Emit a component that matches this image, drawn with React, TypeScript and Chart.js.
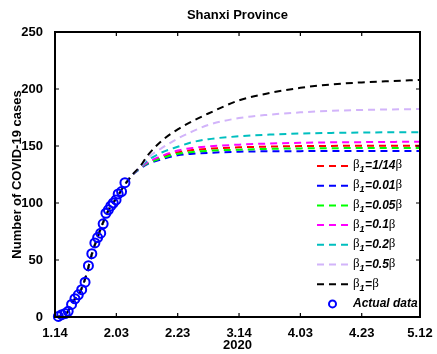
import React, { useEffect, useRef } from "react";
import { Chart, registerables } from "chart.js";

Chart.register(...registerables);

const TITLE = "Shanxi Province";
const Y_TITLE = "Number of COVID-19 cases";
const X_TITLE = "2020";

// x axis: days since 1.14 (2020)
const tickDays = [0, 20, 40, 60, 80, 100, 119];
const tickLabels = ["1.14", "2.03", "2.23", "3.14", "4.03", "4.23", "5.12"];

const actualDays = [1.1, 2.2, 3.3, 4.3, 5.4, 6.5, 7.6, 8.7, 9.8, 10.9, 12.0, 13.0, 13.9, 14.9, 15.7, 16.6, 17.4, 18.2, 19.0, 19.9, 20.6, 21.7, 22.8];
const actualCases = [0.5, 2, 3, 5, 11, 16, 19.5, 24, 30.5, 45, 55.5, 65, 69.7, 73.5, 81.7, 91, 94, 97.4, 100, 102.7, 108, 110, 117.8];

const modelDays = [0, 2, 4, 6, 8, 10, 12, 14, 16, 18, 20, 22, 25, 28, 30, 35, 40, 45, 50, 60, 70, 80, 90, 100, 110, 119];
const sharedEarly = [0, 1, 4, 14, 21, 35, 55, 71, 85, 96.5, 104, 113, 124];

const tailRed = [131.3, 135, 140.5, 144.5, 146.5, 147.6, 148.8, 149.5, 149.9, 150.1, 150.2, 150.3, 150.3];
const tailBlue = [130.5, 134, 138.5, 141.8, 143.2, 144, 145, 145.4, 145.5, 145.6, 145.6, 145.6, 145.6];
const tailGreen = [131, 134.5, 139.5, 143.2, 144.8, 145.8, 146.8, 147.5, 147.9, 148.1, 148.2, 148.3, 148.3];
const tailMagenta = [131.5, 135.5, 141.5, 146, 148.3, 149.6, 151.2, 152.2, 152.8, 153.2, 153.4, 153.6, 153.7];
const tailCyan = [132, 137, 144.5, 149.3, 153.5, 156, 158.5, 160, 161, 161.5, 161.8, 162, 162];
const tailLavender = [132.5, 139, 148.5, 156.5, 163, 168.5, 174.5, 177.5, 179.5, 180.8, 181.6, 182.1, 182.4];
const tailBlack = [133, 141, 155, 164.5, 172, 178.5, 190, 196.5, 201, 204, 205.8, 207, 208];

const seriesLabels = ["β1=1/14β", "β1=0.01β", "β1=0.05β", "β1=0.1β", "β1=0.2β", "β1=0.5β", "β1=β"];
const seriesColors = ["#FF0000", "#0000FF", "#00FF00", "#FF00FF", "#00BFBF", "#D2B4FA", "#000000"];
const seriesTails = [tailRed, tailBlue, tailGreen, tailMagenta, tailCyan, tailLavender, tailBlack];
const ACTUAL_LABEL = "Actual data";

const SANS = "'Liberation Sans', Arial, sans-serif";

const framePlugin = {
  id: "matlabFrame",
  afterDraw(chart: any) {
    const { ctx, chartArea: a, scales } = chart;
    ctx.save();
    // frame
    ctx.strokeStyle = "#000";
    ctx.lineWidth = 2;
    ctx.setLineDash([]);
    ctx.strokeRect(a.left, a.top, a.right - a.left, a.bottom - a.top);
    // inward ticks
    ctx.lineWidth = 1.2;
    const tl = 4;
    ctx.beginPath();
    scales.x.ticks.forEach((t: any) => {
      const px = scales.x.getPixelForValue(t.value);
      ctx.moveTo(px, a.bottom);
      ctx.lineTo(px, a.bottom - tl);
      ctx.moveTo(px, a.top);
      ctx.lineTo(px, a.top + tl);
    });
    scales.y.ticks.forEach((t: any) => {
      const py = scales.y.getPixelForValue(t.value);
      ctx.moveTo(a.left, py);
      ctx.lineTo(a.left + tl, py);
      ctx.moveTo(a.right, py);
      ctx.lineTo(a.right - tl, py);
    });
    ctx.stroke();

    // title
    ctx.fillStyle = "#000";
    ctx.font = `bold 13px ${SANS}`;
    ctx.textAlign = "center";
    ctx.textBaseline = "middle";
    ctx.fillText(TITLE, (a.left + a.right) / 2, 15);

    // legend
    const x0 = a.right - 103;
    const x1 = a.right - 72;
    const tx = a.right - 67;
    const y0 = a.top + 134;
    const dy = 19.7;
    ctx.textAlign = "left";
    chart.data.datasets.forEach((ds: any, i: number) => {
      const y = y0 + i * dy;
      if (ds.type === "scatter" || ds.showLine === false) {
        ctx.setLineDash([]);
        ctx.strokeStyle = ds.borderColor;
        ctx.lineWidth = 2;
        ctx.beginPath();
        ctx.arc((x0 + x1) / 2, y, 3.5, 0, Math.PI * 2);
        ctx.stroke();
        ctx.fillStyle = "#000";
        ctx.font = `italic bold 12px ${SANS}`;
        ctx.fillText(ds.label, tx, y);
        return;
      }
      ctx.strokeStyle = ds.borderColor;
      ctx.lineWidth = 2;
      ctx.setLineDash([7, 5]);
      ctx.beginPath();
      ctx.moveTo(x0, y);
      ctx.lineTo(x1, y);
      ctx.stroke();
      ctx.setLineDash([]);
      const m = /^β1=(.*)β$/.exec(ds.label);
      const mid = m ? m[1] : ds.label;
      ctx.fillStyle = "#000";
      let x = tx;
      ctx.font = `13px 'Liberation Serif', serif`;
      ctx.fillText("β", x, y - 1);
      x += ctx.measureText("β").width;
      ctx.font = `italic bold 9px ${SANS}`;
      ctx.fillText("1", x, y + 4);
      x += ctx.measureText("1").width + 0.5;
      ctx.font = `italic bold 12px ${SANS}`;
      const s = "=" + mid;
      ctx.fillText(s, x, y);
      x += ctx.measureText(s).width;
      ctx.font = `13px 'Liberation Serif', serif`;
      ctx.fillText("β", x, y - 1);
    });
    ctx.restore();
  },
};

export default function App() {
  const ref = useRef<HTMLCanvasElement | null>(null);
  useEffect(() => {
    document.body.style.margin = "0";
    const canvas = ref.current!;
    const lineSets = seriesLabels.map((label, i) => ({
      type: "line" as const,
      label,
      data: modelDays.map((d, k) => ({ x: d, y: [...sharedEarly, ...seriesTails[i]][k] })),
      borderColor: seriesColors[i],
      backgroundColor: seriesColors[i],
      borderWidth: 2,
      borderDash: [7, 5],
      pointRadius: 0,
      fill: false,
      cubicInterpolationMode: "monotone" as const,
      order: i === seriesLabels.length - 1 ? 1 : 9 - i,
    }));
    const actual = {
      type: "line" as const,
      label: ACTUAL_LABEL,
      data: actualDays.map((d, k) => ({ x: d, y: actualCases[k] })),
      showLine: false,
      borderColor: "#0000FF",
      backgroundColor: "rgba(0,0,0,0)",
      pointRadius: 4.5,
      pointBorderWidth: 2,
      pointStyle: "circle",
      clip: false as any,
      order: 0,
    };
    const chart = new Chart(canvas, {
      type: "line",
      data: { datasets: [...lineSets, actual] as any },
      options: {
        animation: false,
        responsive: true,
        maintainAspectRatio: false,
        layout: { padding: { left: 0, top: 32, right: 17, bottom: 0 } },
        plugins: {
          legend: { display: false },
          title: { display: false },
          tooltip: { enabled: false },
        },
        scales: {
          x: {
            type: "linear",
            min: 0,
            max: 119,
            grid: { display: false },
            border: { display: false },
            afterBuildTicks: (scale: any) => {
              scale.ticks = tickDays.map((v) => ({ value: v }));
            },
            afterFit: (scale: any) => {
              scale.height = 37;
            },
            ticks: {
              autoSkip: false,
              maxRotation: 0,
              padding: 1,
              color: "#000",
              font: { family: SANS, size: 13, weight: "bold" },
              callback: (v: any) => {
                const idx = tickDays.indexOf(Number(v));
                return idx >= 0 ? tickLabels[idx] : "";
              },
            },
            title: {
              display: true,
              text: X_TITLE,
              color: "#000",
              font: { family: SANS, size: 13, weight: "bold" },
              padding: { top: 0, bottom: 1 },
            },
          },
          y: {
            type: "linear",
            min: 0,
            max: 250,
            grid: { display: false },
            border: { display: false },
            afterFit: (scale: any) => {
              scale.width = 55;
            },
            ticks: {
              stepSize: 50,
              padding: 4,
              color: "#000",
              font: { family: SANS, size: 13, weight: "bold" },
            },
            title: {
              display: true,
              text: Y_TITLE,
              color: "#000",
              font: { family: SANS, size: 13, weight: "bold" },
              padding: { top: 10, bottom: 0 },
            },
          },
        },
      },
      plugins: [framePlugin],
    });
    return () => chart.destroy();
  }, []);
  return (
    <div style={{ position: "fixed", left: 0, top: 0, width: 437, height: 354, background: "#fff" }}>
      <canvas ref={ref} />
    </div>
  );
}
